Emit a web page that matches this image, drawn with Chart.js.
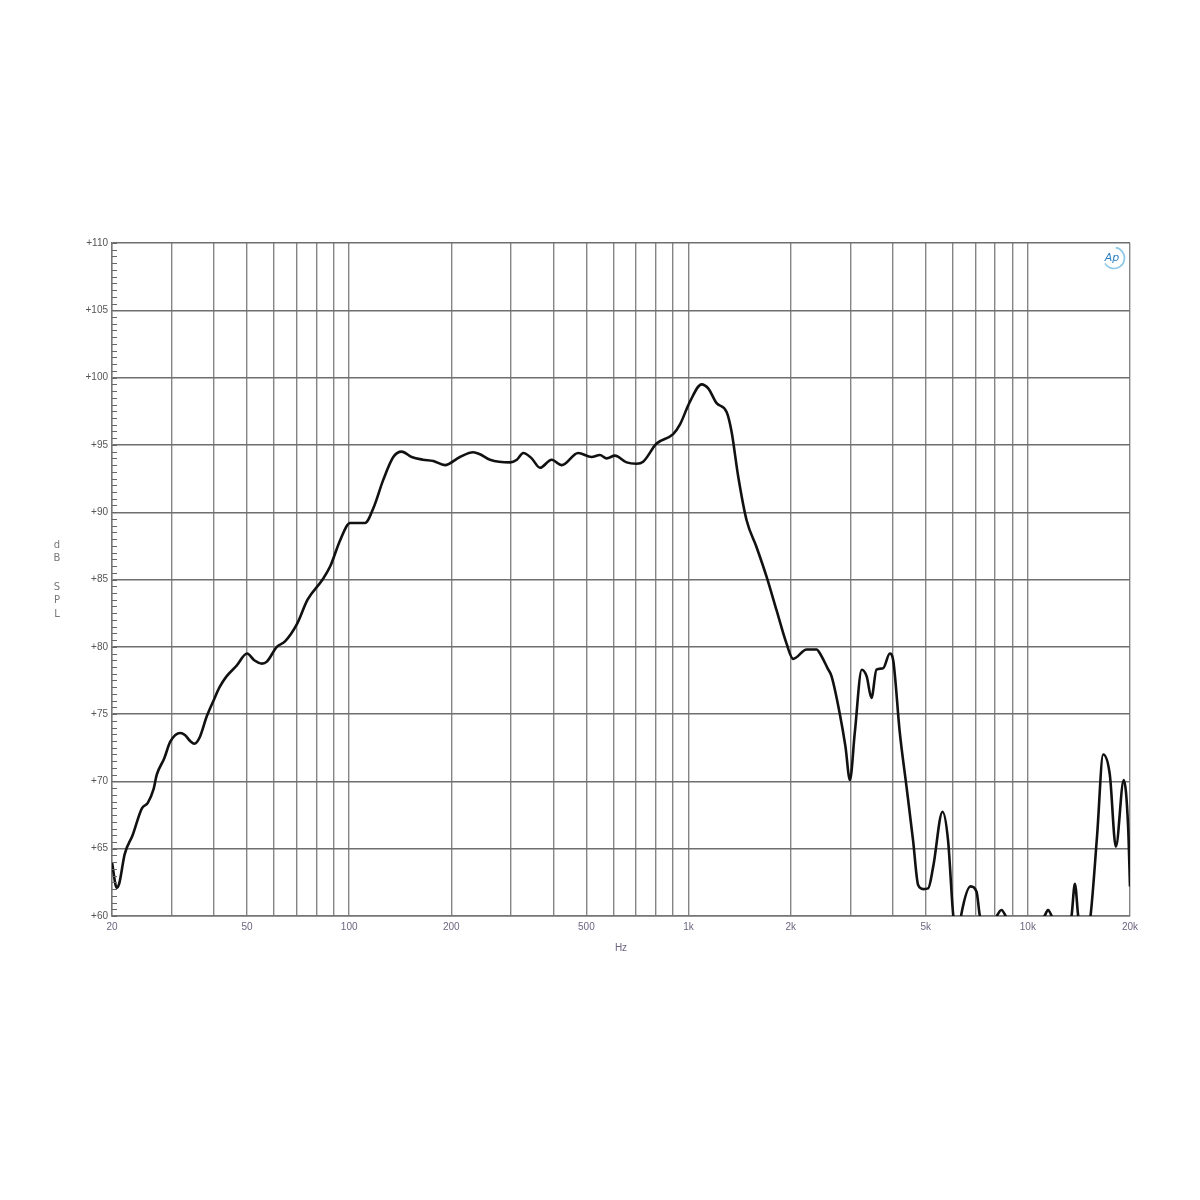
<!DOCTYPE html>
<html><head><meta charset="utf-8">
<script src="https://cdn.jsdelivr.net/npm/chart.js@4.4.1/dist/chart.umd.min.js"></script>
<style>html,body{margin:0;padding:0;background:#fff;}canvas{display:block;}</style>
</head><body>
<canvas id="c" width="1200" height="1200"></canvas>
<script>
const freqHz = [20,20.65,21.0,21.8,23.0,24.5,25.5,26.5,27.1,28.5,29.7,31.8,32.8,34.0,35.0,36.3,38.0,39.9,41.5,43.5,46.6,50.0,52.5,55.3,57.2,61.2,64.7,70.2,75.4,83.5,88,94,100.6,111.3,117.8,126,134.9,142.8,152.8,165,177,191.5,212,232,243,260,298,312,326,345,365,395,423,473,518,548,574,607,657,703,735,805,901,943,1009,1093,1143,1210,1295,1339,1401,1483,1587,1699,1818,1944,2034,2230,2385,2440,2570,2640,2790,2900,2990,3090,3240,3350,3460,3580,3745,3920,4010,4195,4390,4590,4750,4920,5085,5260,5605,5820,6020,6200,6376,6780,7060,7220,7600,8100,8360,8600,9500,11200,11470,11750,12600,13450,13760,14070,14600,15300,16000,16670,17440,18170,19170,19750,20000];
const splDb = [64.0,62.1,62.4,64.6,66.0,68.0,68.4,69.4,70.5,71.7,72.95,73.6,73.45,73.0,72.8,73.3,74.8,76.05,77.0,77.8,78.6,79.5,79.0,78.75,78.9,80.0,80.4,81.7,83.5,85.0,86.0,87.9,89.2,89.2,90.3,92.4,94.1,94.5,94.1,93.9,93.8,93.5,94.1,94.45,94.3,93.9,93.7,93.9,94.4,94.0,93.3,93.9,93.5,94.4,94.1,94.25,94.0,94.2,93.7,93.6,93.75,95.1,95.8,96.5,98.2,99.5,99.2,98.1,97.45,96.0,92.65,89.4,87.4,85.2,82.7,80.25,79.1,79.8,79.8,79.5,78.4,77.8,75.05,72.6,70.1,73.6,78.3,77.8,76.2,78.3,78.4,79.5,79.0,73.6,69.6,65.6,62.3,62.0,62.05,63.65,67.75,65.6,60.2,58.0,60.2,62.2,61.8,60.0,58.3,60.0,60.45,60.0,57.5,60.0,60.45,60.0,58.0,60.0,62.4,60.0,57.5,60.0,66.0,72.0,70.5,65.15,70.1,66.6,62.2];
const freqGridTicks = [20,30,40,50,60,70,80,90,100,200,300,400,500,600,700,800,900,1000,2000,3000,4000,5000,6000,7000,8000,9000,10000,20000];
const freqLabeledTicks = [20,50,100,200,500,1000,2000,5000,10000,20000];
const freqTickLabels = ['20','50','100','200','500','1k','2k','5k','10k','20k'];
const splMin = 60, splMax = 110, splStep = 5, splMinorStep = 0.5;
const xTitle = 'Hz';
const yTitleLetters = ['d','B','','S','P','L'];
const logoText = 'Ap';

const extrasPlugin = {
  id: 'extras',
  afterDraw(chart) {
    const ctx = chart.ctx, y = chart.scales.y, a = chart.chartArea;
    ctx.save();
    ctx.strokeStyle = '#666'; ctx.lineWidth = 1;
    for (let v = splMin; v <= splMax + 1e-9; v += splMinorStep) {
      const py = Math.round(y.getPixelForValue(v)) + 0.5;
      ctx.beginPath(); ctx.moveTo(a.left, py); ctx.lineTo(a.left + 5, py); ctx.stroke();
    }
    // y title, stacked letters
    ctx.fillStyle = '#777'; ctx.font = '10px "DejaVu Sans", sans-serif';
    ctx.textAlign = 'center'; ctx.textBaseline = 'middle';
    const cy = (a.top + a.bottom) / 2;
    const ys = [545, 558, 572, 587, 600, 614];
    yTitleLetters.forEach((ch, i) => { if (ch) ctx.fillText(ch, 57, ys[i] - 579.5 + cy); });
    // logo
    const lx = a.right - 16, ly = a.top + 15;
    ctx.strokeStyle = '#8cc8ea'; ctx.lineWidth = 1.6;
    ctx.beginPath(); ctx.arc(lx, ly, 10.5, -1.4, 2.6); ctx.stroke();
    ctx.fillStyle = '#2a7fc0'; ctx.font = 'italic 11px "DejaVu Sans", sans-serif';
    ctx.fillText(logoText, lx - 2, ly);
    ctx.restore();
  }
};

new Chart(document.getElementById('c'), {
  type: 'line',
  data: { datasets: [{
    data: freqHz.map((f, i) => ({ x: f, y: splDb[i] })),
    borderColor: '#111', borderWidth: 2.6, pointRadius: 0,
    cubicInterpolationMode: 'monotone', clip: 0, fill: false
  }]},
  options: {
    responsive: false, animation: false, devicePixelRatio: 1,
    layout: { padding: { left: 0, right: 70, top: 243, bottom: 242 } },
    plugins: { legend: { display: false }, tooltip: { enabled: false } },
    scales: {
      x: {
        type: 'logarithmic', min: 20, max: 20000,
        afterBuildTicks: s => { s.ticks = freqGridTicks.map(v => ({ value: v })); },
        afterFit: s => { s.height = 42; },
        ticks: {
          autoSkip: false, maxRotation: 0, padding: 5, color: '#6e6480',
          font: { size: 10, family: 'Arial, "Liberation Sans", sans-serif' },
          callback: v => { const i = freqLabeledTicks.indexOf(v); return i >= 0 ? freqTickLabels[i] : ''; }
        },
        grid: { color: '#858585', lineWidth: 1.4, drawTicks: false },
        border: { color: '#777', width: 1.4 },
        title: { display: true, text: xTitle, color: '#6e6480', padding: { top: 4, bottom: 4 },
          font: { size: 10, family: 'Arial, "Liberation Sans", sans-serif' } }
      },
      y: {
        min: splMin, max: splMax,
        afterFit: s => { s.width = 112; },
        ticks: { stepSize: splStep, padding: 4, color: '#555',
          font: { size: 10, family: 'Arial, "Liberation Sans", sans-serif' },
          callback: v => '+' + v },
        grid: { color: '#6f6f6f', lineWidth: 1.4, drawTicks: false },
        border: { color: '#777', width: 1.4 }
      }
    }
  },
  plugins: [extrasPlugin]
});
</script>
</body></html>
